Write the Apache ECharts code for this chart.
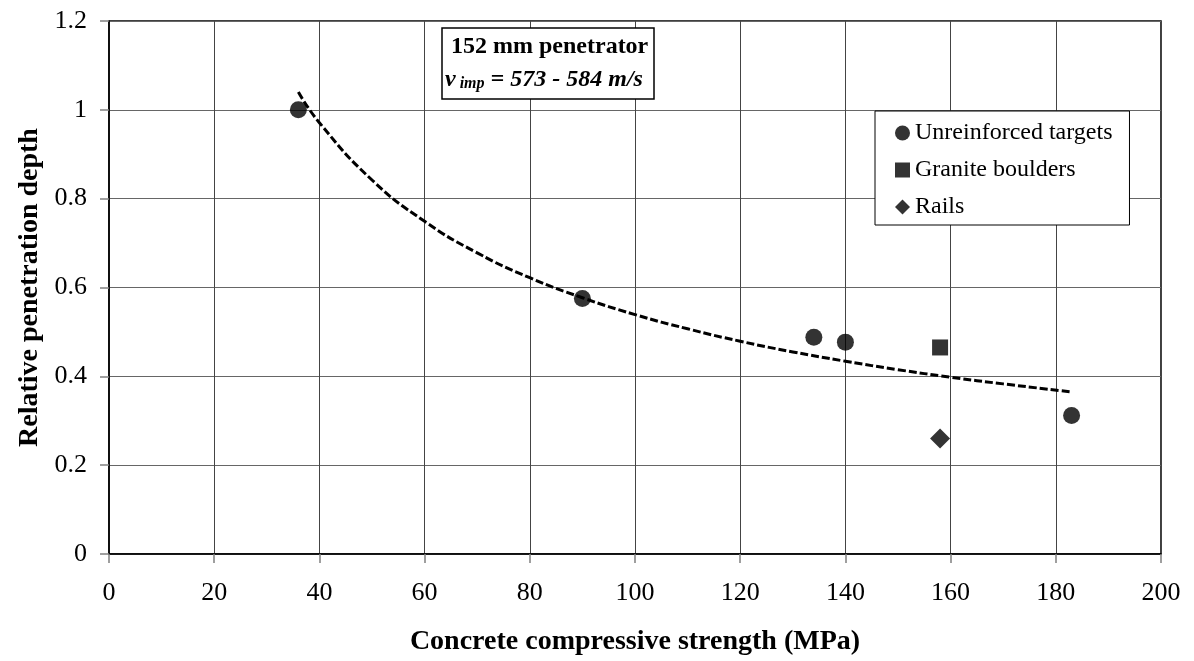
<!DOCTYPE html>
<html>
<head>
<meta charset="utf-8">
<script src="https://cdn.jsdelivr.net/npm/echarts@6/dist/echarts.min.js"></script>
<style>
html,body{margin:0;padding:0;background:#fff;}
#chart{width:1194px;height:661px;}
</style>
</head>
<body>
<div id="chart"></div>
<script>
// ---- data ----
const unreinforcedX = [36, 90, 134, 140, 183];
const unreinforcedY = [1.0, 0.575, 0.488, 0.477, 0.312];
const graniteX = [158];
const graniteY = [0.465];
const railsX = [158];
const railsY = [0.26];
const trendX = [36, 40, 50, 60, 70, 80, 90, 100, 110, 120, 130, 140, 150, 160, 170, 183];
const trendY = [1.04, 0.971, 0.842, 0.749, 0.678, 0.622, 0.577, 0.539, 0.507, 0.479, 0.455, 0.434, 0.415, 0.398, 0.383, 0.365];
const seriesNames = ['Unreinforced targets', 'Granite boulders', 'Rails'];
const xTitle = 'Concrete compressive strength (MPa)';
const yTitle = 'Relative penetration depth';
const annotationLine1 = '152 mm penetrator';
const annotationV = 'v';
const annotationSub = ' imp';
const annotationRest = ' = 573 - 584 m/s';

const pairs = (xs, ys) => xs.map((x, i) => [x, ys[i]]);
const FONT = '"Liberation Serif", "Times New Roman", serif';

const chart = echarts.init(document.getElementById('chart'), null, {renderer: 'canvas'});
chart.setOption({
  backgroundColor: '#fff',
  animation: false,
  grid: {left: 109, right: 33, top: 21, bottom: 107, show: true, borderColor: '#000', borderWidth: 1.5, backgroundColor: 'transparent'},
  title: {
    text: '{b|' + annotationLine1 + '}\n{v|' + annotationV + '}{s|' + annotationSub + '}{e|' + annotationRest + '}',
    left: 442, top: 23,
    backgroundColor: '#fff',
    borderColor: '#000', borderWidth: 1.5,
    padding: [7, 6, 7, 3],
    textStyle: {
      fontFamily: FONT, color: '#000',
      rich: {
        b: {fontFamily: FONT, fontWeight: 'bold', fontSize: 24, lineHeight: 33, color: '#000', padding: [0, 0, 0, 6]},
        v: {fontFamily: FONT, fontWeight: 'bold', fontStyle: 'italic', fontSize: 24, lineHeight: 33, color: '#000'},
        s: {fontFamily: FONT, fontWeight: 'bold', fontStyle: 'italic', fontSize: 16, lineHeight: 16, padding: [9, 0, 0, 0], color: '#000'},
        e: {fontFamily: FONT, fontWeight: 'bold', fontStyle: 'italic', fontSize: 24, lineHeight: 33, color: '#000'}
      }
    }
  },
  legend: {
    data: seriesNames,
    orient: 'vertical',
    left: 875, top: 111,
    backgroundColor: '#fff',
    borderColor: '#000', borderWidth: 1,
    padding: [10, 17, 6, 20],
    itemGap: 13,
    itemWidth: 15, itemHeight: 15,
    textStyle: {fontFamily: FONT, fontSize: 24, color: '#000'}
  },
  xAxis: {
    type: 'value', min: 0, max: 200, interval: 20,
    name: xTitle, nameLocation: 'middle', nameGap: 74,
    nameTextStyle: {fontFamily: FONT, fontSize: 28, fontWeight: 'bold', color: '#000'},
    axisLine: {show: true, lineStyle: {color: '#000', width: 1.5}},
    axisTick: {show: true, inside: false, length: 9, lineStyle: {color: '#808080', width: 1.5}},
    axisLabel: {fontFamily: FONT, fontSize: 26, color: '#000', margin: 26},
    splitLine: {show: true, lineStyle: {color: '#444', width: 1}}
  },
  yAxis: {
    type: 'value', min: 0, max: 1.2, interval: 0.2,
    name: yTitle, nameLocation: 'middle', nameGap: 64, nameRotate: 90,
    nameTextStyle: {fontFamily: FONT, fontSize: 28, fontWeight: 'bold', color: '#000'},
    axisLine: {show: true, lineStyle: {color: '#000', width: 1.5}},
    axisTick: {show: true, inside: false, length: 9, lineStyle: {color: '#808080', width: 1.5}},
    axisLabel: {fontFamily: FONT, fontSize: 26, color: '#000', margin: 22},
    splitLine: {show: true, lineStyle: {color: '#666', width: 1}}
  },
  series: [
    {
      name: 'Trend', type: 'line', data: pairs(trendX, trendY),
      smooth: true, showSymbol: false, symbol: 'none', z: 3,
      lineStyle: {color: '#000', width: 3, type: [8, 3]}
    },
    {
      name: seriesNames[0], type: 'scatter', data: pairs(unreinforcedX, unreinforcedY),
      symbol: 'circle', symbolSize: 17, z: 4,
      itemStyle: {color: '#000'}
    },
    {
      name: seriesNames[1], type: 'scatter', data: pairs(graniteX, graniteY),
      symbol: 'rect', symbolSize: 16, z: 4,
      itemStyle: {color: '#000'}
    },
    {
      name: seriesNames[2], type: 'scatter', data: pairs(railsX, railsY),
      symbol: 'diamond', symbolSize: 20, z: 4,
      itemStyle: {color: '#000'}
    }
  ]
});
</script>
</body>
</html>
